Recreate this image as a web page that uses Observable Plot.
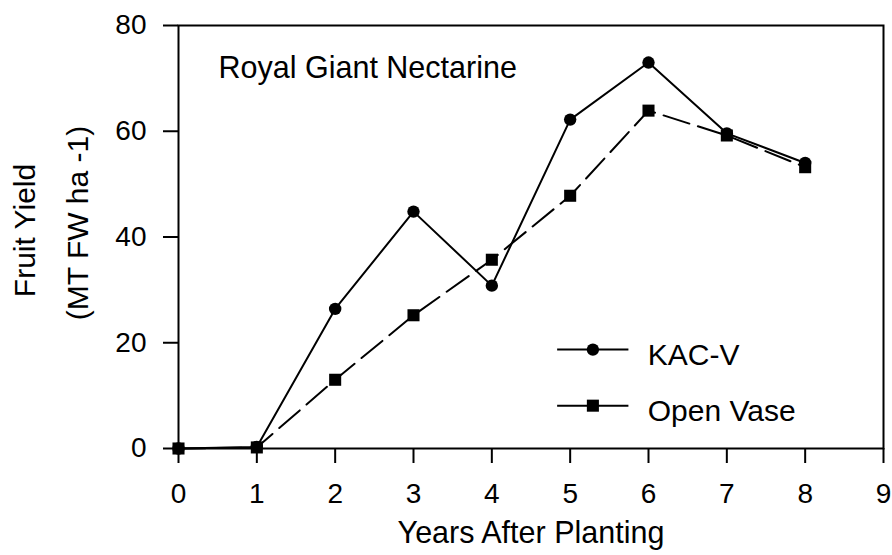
<!DOCTYPE html>
<html><head><meta charset="utf-8">
<script src="https://cdn.jsdelivr.net/npm/d3@7"></script>
<script src="https://cdn.jsdelivr.net/npm/@observablehq/plot@0.6"></script>
<style>body{margin:0;background:#fff}</style>
</head><body><div id="chart"></div>
<script>
const years = [0, 1, 2, 3, 4, 5, 6, 7, 8];
const kacv = [0, 0.3, 26.4, 44.8, 30.8, 62.2, 73.0, 59.6, 54.0];
const openVase = [0, 0.2, 13.0, 25.2, 35.7, 47.8, 63.9, 59.2, 53.2];
const xTicks = [0, 1, 2, 3, 4, 5, 6, 7, 8, 9];
const yTicks = [0, 20, 40, 60, 80];
const seriesNames = ["KAC-V", "Open Vase"];
const titleText = "Royal Giant Nectarine";
const xLabel = "Years After Planting";
const yLabel1 = "Fruit Yield";
const yLabel2 = "(MT FW ha -1)";

const kacData = years.map((x, i) => ({x, y: kacv[i]}));
const ovData = years.map((x, i) => ({x, y: openVase[i]}));
const legendRows = seriesNames.map((name, i) => ({name, row: i}));

const font = "'Liberation Sans', Arial, Helvetica, sans-serif";
const LW = 2;
// legend layout (in chart units)
const legY = [18.7, 8.1];

const chart = Plot.plot({
  width: 892,
  height: 555,
  marginLeft: 178,
  marginRight: 9,
  marginTop: 25,
  marginBottom: 107,
  style: {fontFamily: font, color: "black", background: "white"},
  x: {domain: [0, 9]},
  y: {domain: [0, 80]},
  marks: [
    Plot.frame({strokeWidth: LW}),
    Plot.axisX({ticks: xTicks, tickSize: 15, tickPadding: 20, fontSize: 28, strokeWidth: LW, label: null, tickFormat: d => d}),
    Plot.axisY({ticks: yTicks, tickSize: 15, tickPadding: 17, fontSize: 28, strokeWidth: LW, label: null, tickFormat: d => d}),
    Plot.line(ovData, {x: "x", y: "y", stroke: "black", strokeWidth: LW, strokeDasharray: "27,9"}),
    Plot.line(kacData, {x: "x", y: "y", stroke: "black", strokeWidth: LW}),
    Plot.dot(ovData, {x: "x", y: "y", symbol: "square", r: 6.8, fill: "black", stroke: "none"}),
    Plot.dot(kacData, {x: "x", y: "y", symbol: "circle", r: 6.2, fill: "black", stroke: "none"}),
    // legend
    Plot.ruleY(legendRows, {y: d => legY[d.row], x1: 4.84, x2: 5.75, stroke: "black", strokeWidth: LW}),
    Plot.dot(legendRows.filter(d => d.row === 0), {x: 5.29, y: d => legY[d.row], symbol: "circle", r: 6.2, fill: "black", stroke: "none"}),
    Plot.dot(legendRows.filter(d => d.row === 1), {x: 5.29, y: d => legY[d.row], symbol: "square", r: 6.8, fill: "black", stroke: "none"}),
    Plot.text(legendRows, {x: 5.99, y: d => legY[d.row], text: "name", textAnchor: "start", lineAnchor: "bottom", dy: 15, fontSize: 30}),
    // title
    Plot.text([titleText], {frameAnchor: "top-left", text: d => d, textAnchor: "start", lineAnchor: "bottom", dx: 40, dy: 52, fontSize: 30.5}),
    // x label
    Plot.text([xLabel], {frameAnchor: "bottom", text: d => d, textAnchor: "middle", lineAnchor: "bottom", dy: 94, fontSize: 30.5}),
    // y labels
    Plot.text([yLabel1], {frameAnchor: "left", text: d => d, rotate: -90, textAnchor: "middle", lineAnchor: "bottom", dx: -144, dy: -6.5, fontSize: 30}),
    Plot.text([yLabel2], {frameAnchor: "left", text: d => d, rotate: -90, textAnchor: "middle", lineAnchor: "bottom", dx: -91, dy: -14, fontSize: 30})
  ]
});
document.getElementById("chart").appendChild(chart);
</script>
</body></html>
